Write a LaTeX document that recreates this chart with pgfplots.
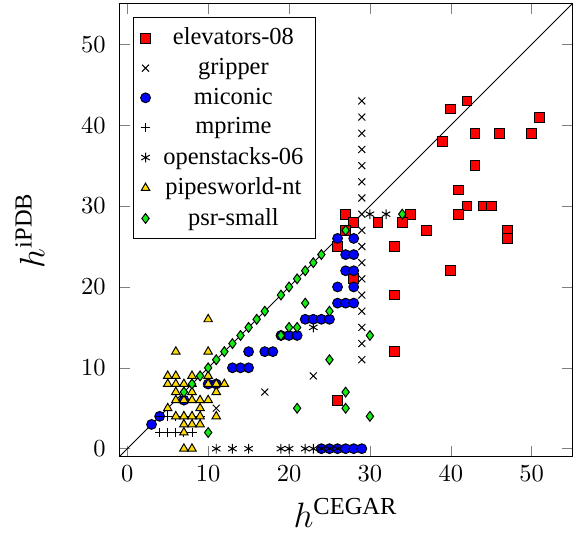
\documentclass[border=0pt]{standalone}
\usepackage{amsmath}
\usepackage{fontspec}
\setmainfont{Liberation Serif}
\usepackage{pgfplots}
\pgfplotsset{compat=1.18}
\definecolor{myyellow}{RGB}{255,218,0}
\definecolor{mygreen}{RGB}{20,235,20}
\begin{document}
\begin{tikzpicture}
\begin{axis}[
  name=ax,
  scale only axis, width=185pt, height=185pt,
  xmin=-1, xmax=55, ymin=-1, ymax=55,
  xtick={0,10,...,50}, ytick={0,10,...,50},
  xlabel={\Large $h^{\text{CEGAR}}$},
  ylabel={\Large $h^{\text{iPDB}}$},
  yticklabel style={xshift=-2pt},
  ylabel style={at={(axis description cs:-0.197,0.5)}, anchor=center},
  tick style={draw=gray},
  legend pos=north west,
  legend cell align=center,
  legend style={draw=black, column sep=3.3pt},
]
\addplot[black, forget plot] coordinates {(-1,-1) (55,55)};
% elevators-08
\addplot[only marks, mark=square*, mark options={fill=red, draw=black}] coordinates {
(42,43)(40,42)(51,41)(43,39)(46,39)(50,39)(39,38)(43,35)(41,32)(42,30)(44,30)(45,30)
(41,29)(35,29)(34,28)(31,28)(27,29)(28,28)(27,27)(26,25)(28,21)(26,6)(37,27)(47,27)
(47,26)(33,25)(40,22)(33,19)(33,12)};
% gripper
\addplot[only marks, mark=x, black] coordinates {
(29,11)(29,13)(29,15)(29,17)(29,19)(29,21)(29,23)(29,25)(29,27)(29,29)(29,31)(29,33)
(29,35)(29,37)(29,39)(29,41)(29,43)(23,9)(17,7)(11,5)};
% miconic
\addplot[only marks, mark=*, mark options={fill=blue, draw=black}] coordinates {
(3,3)(4,4)(7,6)(10,8)(11,8)(13,10)(14,10)(15,10)(15,12)(17,12)(18,12)(19,14)(20,14)
(21,14)(22,16)(23,16)(24,16)(25,16)(26,18)(27,18)(28,18)(26,20)(28,20)(27,22)(28,22)
(27,24)(28,24)(26,26)(28,26)(24,0)(25,0)(26,0)(27,0)(28,0)(29,0)};
% mprime
\addplot[only marks, mark=+, black] coordinates {
(4,2)(5,2)(6,2)(7,2)(8,2)(4,4)(5,4)(6,4)(7,4)(8,4)(9,4)};
% openstacks-06
\addplot[only marks, mark=asterisk, black] coordinates {
(11,0)(13,0)(15,0)(19,0)(20,0)(22,0)(23,0)(24,0)(25,0)(26,0)(23,15)(30,29)(32,29)};
% pipesworld-nt
\addplot[only marks, mark=triangle*, mark options={fill=myyellow, draw=black}] coordinates {
(10,16)(6,12)(10,12)(5,9)(6,9)(8,9)(10,9)(5,8)(6,8)(7,8)(8,8)(10,8)(11,8)(12,8)
(6,7)(8,7)(11,7)(6,6)(7,6)(8,6)(9,6)(10,6)(5,5)(9,5)(6,4)(7,4)(8,4)(9,4)(11,4)
(7,3)(8,3)(9,3)(7,2)(7,0)(8,0)};
% psr-small
\addplot[only marks, mark=diamond*, mark options={fill=mygreen, draw=black}] coordinates {
(7,7)(8,8)(9,9)(10,10)(11,11)(12,12)(13,13)(14,14)(15,15)(16,16)(17,17)(19,19)(20,20)
(21,21)(22,22)(23,23)(24,24)(27,27)(34,29)(22,18)(19,14)(20,15)(21,15)(25,17)(25,11)
(30,14)(27,7)(27,5)(21,5)(30,4)(10,2)};
\legend{elevators-08\hspace{3.3pt}, gripper\hspace{3.3pt}, miconic\hspace{3.3pt}, mprime\hspace{3.3pt}, openstacks-06\hspace{3.3pt}, pipesworld-nt\hspace{3.3pt}, psr-small\hspace{3.3pt}}
\end{axis}
\path ([xshift=-48.7pt,yshift=-31.1pt]ax.south west) rectangle ([xshift=1.6pt,yshift=1.6pt]ax.north east);
\end{tikzpicture}
\end{document}
